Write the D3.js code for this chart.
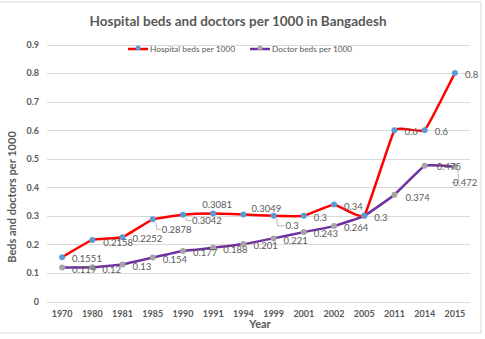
<!DOCTYPE html>
<html>
<head>
<meta charset="utf-8">
<script src="https://cdn.jsdelivr.net/npm/d3@7"></script>
<style>
  body { margin: 0; background: #fff; }
  text { font-family: Lato, "Open Sans", sans-serif; fill: #595959; }
</style>
</head>
<body>
<script>
var width  = 485;
var height = 339;

var years   = ['1970','1980','1981','1985','1990','1991','1994','1999','2001','2002','2005','2011','2014','2015'];
var beds    = [0.1551, 0.2158, 0.2252, 0.2878, 0.3042, 0.3081, 0.3049, 0.3, 0.3, 0.34, 0.3, 0.6, 0.6, 0.8];
var doctors = [0.119, 0.12, 0.13, 0.154, 0.177, 0.188, 0.201, 0.221, 0.243, 0.264, 0.3, 0.374, 0.475, 0.472];
var yTicks  = [0, 0.1, 0.2, 0.3, 0.4, 0.5, 0.6, 0.7, 0.8, 0.9];

// label placement (dx from marker to text start, dy to text middle)
var bedsLabelPos = {
  0: [10, 1], 1: [11, 3], 2: [10, 1], 3: [9, 10, true], 4: [9, 6, true],
  5: [-11, -9], 6: [8, -6], 7: [12, 10, true]
};
var docLabelPos = {
  10: null, 11: [11, 3], 12: [12, 1], 13: [-2, 16, true]
};

var svg = d3.select('body')
            .append('svg')
            .attr('width', width)
            .attr('height', height);

svg.append('rect')
   .attr('x', -1).attr('y', 2)
   .attr('width', 482).attr('height', 331)
   .attr('fill', '#fff')
   .attr('stroke', '#d9d9d9');

var x = d3.scaleBand().domain(years).range([47, 470]);
var y = d3.scaleLinear().domain([0, 0.9]).range([301.5, 44.5]);
function cx(i) { return x(years[i]) + x.bandwidth() / 2; }

// gridlines
svg.append('g').selectAll('line')
   .data(yTicks)
   .enter()
   .append('line')
   .attr('x1', 47).attr('x2', 470)
   .attr('y1', function(d){ return Math.round(y(d)) + 0.5; })
   .attr('y2', function(d){ return Math.round(y(d)) + 0.5; })
   .attr('stroke', '#d9d9d9')
   .attr('stroke-width', 1.2);

// y axis labels
var yAxis = svg.append('g')
   .attr('transform', 'translate(47,0)')
   .call(d3.axisLeft(y).tickValues(yTicks).tickSize(0).tickPadding(8)
          .tickFormat(function(d){ return d === 0 ? '0' : d3.format('.1f')(d); }));
yAxis.select('.domain').remove();
yAxis.selectAll('text')
     .attr('font-family', 'Lato, sans-serif')
     .attr('font-size', '9px')
     .attr('font-weight', 'bold')
     .attr('fill', '#595959');

// x axis labels
var xAxis = svg.append('g')
   .attr('transform', 'translate(0,301.5)')
   .call(d3.axisBottom(x).tickSize(0).tickPadding(9));
xAxis.select('.domain').remove();
xAxis.selectAll('text')
     .attr('font-family', 'Lato, sans-serif')
     .attr('font-size', '9px')
     .attr('font-weight', 'bold')
     .attr('fill', '#595959');

// title & axis titles
svg.append('text')
   .attr('x', 238).attr('y', 26)
   .attr('text-anchor', 'middle')
   .attr('font-size', '13.5px')
   .attr('font-weight', 'bold')
   .text('Hospital beds  and doctors per 1000 in Bangadesh');

svg.append('text')
   .attr('x', 260).attr('y', 328)
   .attr('text-anchor', 'middle')
   .attr('font-size', '11px')
   .attr('font-weight', 'bold')
   .text('Year');

svg.append('text')
   .attr('transform', 'translate(16,197) rotate(-90)')
   .attr('text-anchor', 'middle')
   .attr('font-size', '11px')
   .attr('font-weight', 'bold')
   .text('Beds and doctors per 1000');

// lines
var line = d3.line()
   .x(function(d, i){ return cx(i); })
   .y(function(d){ return y(d); })
   .curve(d3.curveCardinal.tension(0.7));

var series = [
  { values: doctors, color: '#7030a0', marker: '#a5a5a5', pos: docLabelPos },
  { values: beds,    color: '#ff0000', marker: '#5b9bd5', pos: bedsLabelPos }
];

series.forEach(function(s){
  svg.append('path')
     .datum(s.values)
     .attr('d', line)
     .attr('fill', 'none')
     .attr('stroke', s.color)
     .attr('stroke-width', 2.5);
});

series.forEach(function(s){
  svg.append('g').selectAll('circle')
     .data(s.values)
     .enter()
     .append('circle')
     .attr('cx', function(d, i){ return cx(i); })
     .attr('cy', function(d){ return y(d); })
     .attr('r', 3)
     .attr('fill', s.marker);
});

// data labels
series.forEach(function(s){
  s.values.forEach(function(v, i){
    var p = s.pos.hasOwnProperty(i) ? s.pos[i] : [10, 2];
    if (p === null) return;
    var px = cx(i), py = y(v);
    if (p[2]) {
      svg.append('polyline')
         .attr('points', [[px + 3, py + 3], [px + 4, p[1] + py], [px + p[0] - 1, p[1] + py]].join(' '))
         .attr('fill', 'none')
         .attr('stroke', '#a6a6a6')
         .attr('stroke-width', 0.8);
    }
    svg.append('text')
       .attr('x', px + p[0])
       .attr('y', py + p[1])
       .attr('dy', '0.35em')
       .attr('font-size', '9.5px')
       .attr('fill', '#404040')
       .text(v);
  });
});

// legend
var legend = [
  { name: 'Hospital beds per 1000', color: '#ff0000', marker: '#5b9bd5', x: 128 },
  { name: 'Doctor beds per 1000',   color: '#7030a0', marker: '#a5a5a5', x: 250 }
];
var lg = svg.append('g').selectAll('g')
   .data(legend)
   .enter()
   .append('g')
   .attr('transform', function(d){ return 'translate(' + d.x + ',49)'; });
lg.append('line')
  .attr('x1', 0).attr('x2', 20)
  .attr('stroke', function(d){ return d.color; })
  .attr('stroke-width', 2.5);
lg.append('circle')
  .attr('cx', 10).attr('cy', -1).attr('r', 2.5)
  .attr('fill', function(d){ return d.marker; });
lg.append('text')
  .attr('x', 22).attr('dy', '0.35em')
  .attr('font-size', '8.3px')
  .text(function(d){ return d.name; });
</script>
</body>
</html>
